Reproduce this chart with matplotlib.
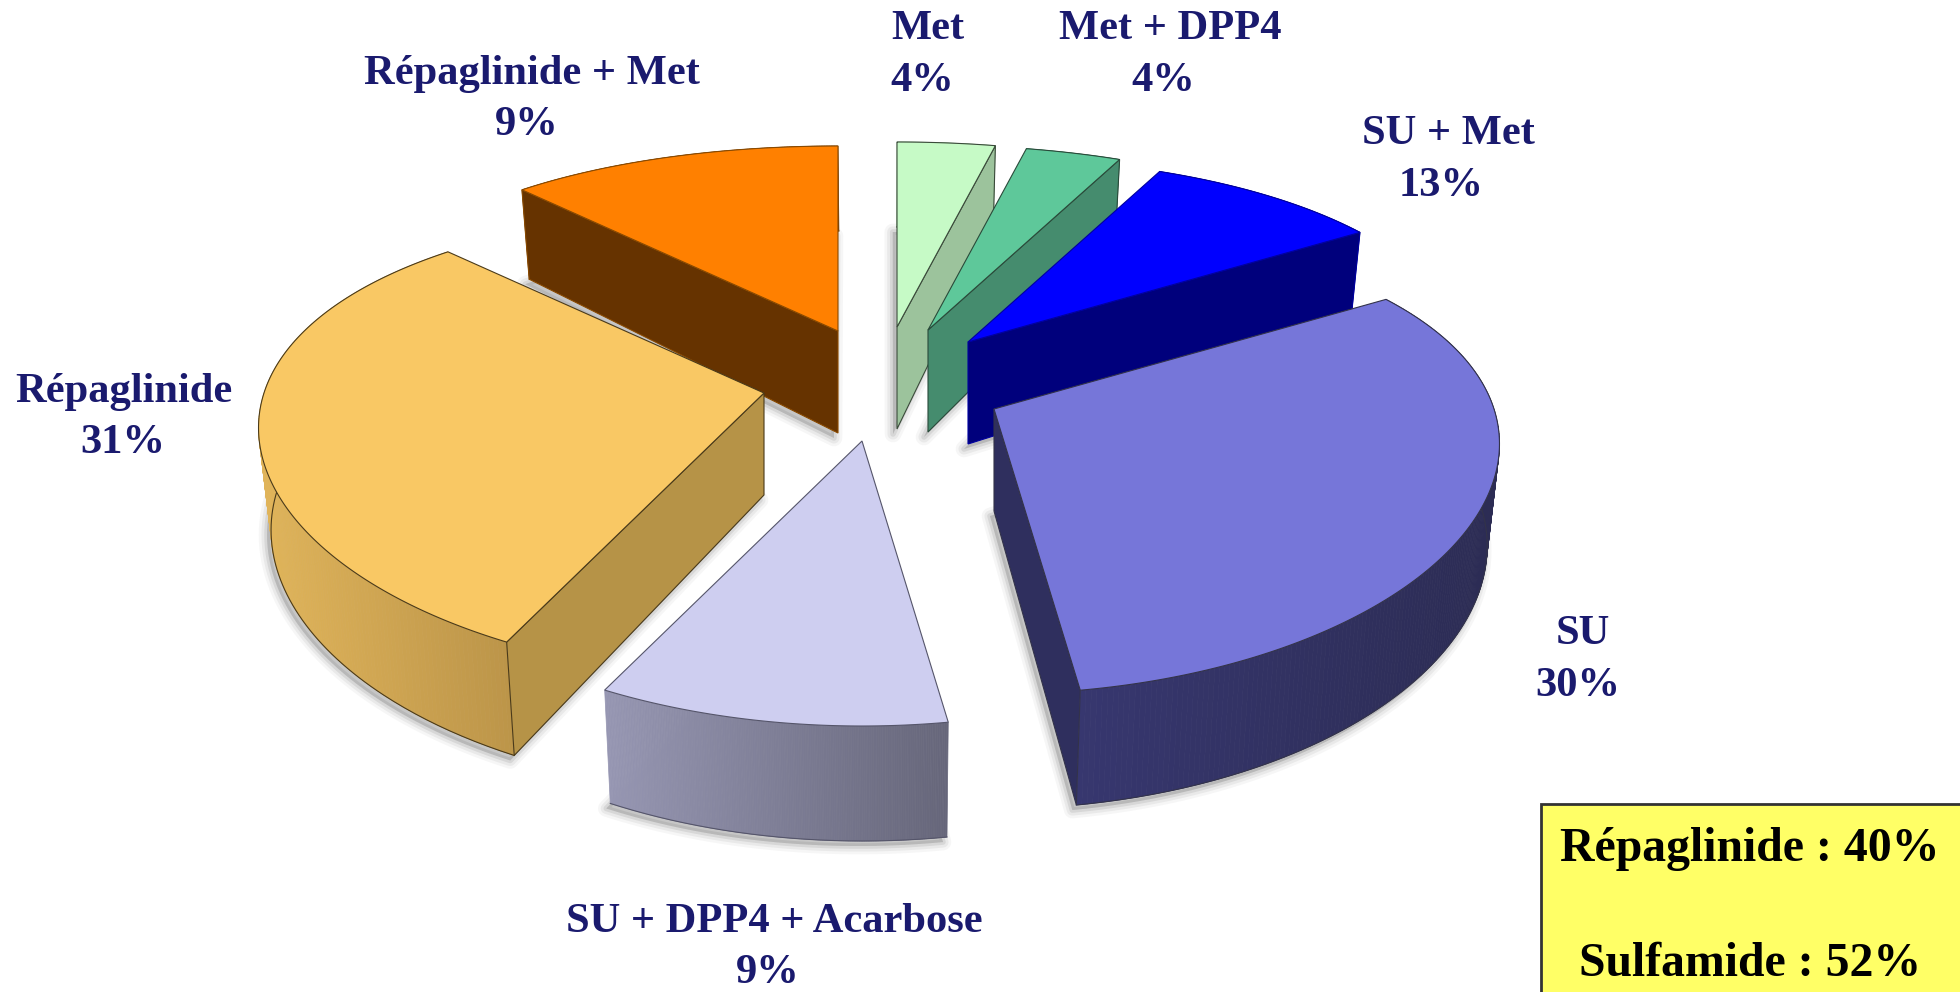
import numpy as np
import matplotlib
matplotlib.use('Agg')
import matplotlib.pyplot as plt

# clockwise from 12 o'clock
slice_names = ['Met', 'Met + DPP4', 'SU + Met', 'SU', 'SU + DPP4 + Acarbose', 'Répaglinide', 'Répaglinide + Met']
slice_labels = ['4%', '4%', '13%', '30%', '9%', '31%', '9%']
# the drawn wedges do not quite follow the printed labels, these are read off the wedges
wedge_share = [3.7, 3.6, 8.9, 31.4, 9.9, 30.0, 12.5]
box_lines = ['Répaglinide : 40%', 'Sulfamide : 52%']

top_colors = ['#C6FAC6', '#5EC89A', '#0000FF', '#7676D9', '#CECEF0', '#F9C864', '#FF8000']
wall_colors = ['#9CC39C', '#458C6E', '#00007C', '#2F2F5E', '#66667A', '#B69347', '#663300']
rim_left = ['#9CC39C', '#458C6E', '#00007C', '#37376F', '#9696B2', '#E0B45A', '#663300']
rim_right = ['#9CC39C', '#458C6E', '#00007C', '#2C2C54', '#66667A', '#BC9549', '#663300']
edge_colors = ['#3A4A3A', '#2A4A3A', '#0000A0', '#33334A', '#55556A', '#4A3A1A', '#8A4A00']

# explode of each slice in pixels, relative to the pie centre
explode_x = [12, 43, 83, 109, -23, -121, -47]
explode_y = [-38, -35, -23, 44, 76, 28, -34]

# layout of the text, in pixels
name_pos = [(928, 29), (1170, 29), (1448, 134), (1583, 634), (774, 922), (124, 392), (532, 74)]
pct_pos = [(922, 81), (1163, 81), (1441, 186), (1578, 686), (768, 973), (123, 443), (527, 125)]
box_text_pos = [(1750, 849), (1750, 964)]

CX, CY = 885, 365
RX = 500
RY_MID, RY_VAR = 235, 50
PERSP = 0.15
BOTTOM_SHRINK = 0.98
APEX_DROP = 102
NAVY = '#1A1A6E'


def rim_point(phi, dx, dy):
    x = RX * np.sin(phi) * (1 - PERSP * np.cos(phi))
    y = -np.cos(phi) * (RY_MID - RY_VAR * np.cos(phi))
    return CX + dx + x, CY + dy + y


def height_at(phi):
    return 100 - 15 * np.cos(phi)


def lower(xs):
    # the base of the pie is a little narrower than its top
    return CX + (xs - CX) * BOTTOM_SHRINK


def blend(c1, c2, f):
    a = np.array(matplotlib.colors.to_rgb(c1))
    b = np.array(matplotlib.colors.to_rgb(c2))
    return tuple(a + (b - a) * f)


fig = plt.figure(figsize=(19.6, 9.92), dpi=100)
ax = fig.add_axes([0, 0, 1, 1])
ax.set_xlim(0, 1960)
ax.set_ylim(992, 0)
ax.axis('off')

bounds = np.radians(np.concatenate([[0], np.cumsum(wedge_share)]) * 3.6)
draw_order = [6, 0, 1, 2, 5, 3, 4]

# soft shadow under everything first
for i in draw_order:
    phi = np.linspace(bounds[i], bounds[i + 1], 80)
    xs, ys = rim_point(phi, explode_x[i], explode_y[i])
    apex_x, apex_y = CX + explode_x[i], CY + explode_y[i]
    sx = np.r_[apex_x, lower(xs), apex_x] - 4
    sy = np.r_[apex_y + APEX_DROP, ys + height_at(phi), apex_y + APEX_DROP] + 5
    for lw, a in [(12, 0.05), (8, 0.08), (4, 0.12)]:
        ax.fill(sx, sy, facecolor='#555555', edgecolor='#555555', lw=lw, alpha=a,
                joinstyle='round', zorder=1)

z = 2
for i in draw_order:
    dx, dy = explode_x[i], explode_y[i]
    a1, a2 = bounds[i], bounds[i + 1]
    phi = np.linspace(a1, a2, 200)
    xs, ys = rim_point(phi, dx, dy)
    hs = height_at(phi)
    xb = lower(xs)
    apex_x, apex_y = CX + dx, CY + dy

    # outer curved face, shaded from left to right
    xmin, xmax = xs.min(), xs.max()
    for k in range(len(phi) - 1):
        f = ((xs[k] + xs[k + 1]) / 2 - xmin) / max(xmax - xmin, 1)
        col = blend(rim_left[i], rim_right[i], f)
        ax.fill([xs[k], xs[k + 1], xb[k + 1], xb[k]],
                [ys[k], ys[k + 1], ys[k + 1] + hs[k + 1], ys[k] + hs[k]],
                facecolor=col, edgecolor=col, lw=0.5, zorder=z)
    ax.plot(xb, ys + hs, color=edge_colors[i], lw=0.8, zorder=z)

    # radial walls, only the ones facing the viewer
    if np.sin(a1) < 0:
        ax.fill([apex_x, xs[0], xb[0], apex_x], [apex_y, ys[0], ys[0] + hs[0], apex_y + APEX_DROP],
                facecolor=wall_colors[i], edgecolor=edge_colors[i], lw=0.8, zorder=z)
    if np.sin(a2) > 0:
        ax.fill([apex_x, xs[-1], xb[-1], apex_x], [apex_y, ys[-1], ys[-1] + hs[-1], apex_y + APEX_DROP],
                facecolor=wall_colors[i], edgecolor=edge_colors[i], lw=0.8, zorder=z)

    ax.fill(np.r_[apex_x, xs], np.r_[apex_y, ys], facecolor=top_colors[i],
            edgecolor=edge_colors[i], lw=0.8, zorder=z)
    z += 1

font = dict(family='Liberation Serif', fontweight='bold', ha='center', va='center')
for i in range(len(slice_names)):
    ax.text(name_pos[i][0], name_pos[i][1], slice_names[i], color=NAVY, fontsize=30.6, zorder=50, **font)
    ax.text(pct_pos[i][0], pct_pos[i][1], slice_labels[i], color=NAVY, fontsize=30.6, zorder=50, **font)

ax.add_patch(plt.Rectangle((1541, 804), 425, 200, facecolor='#FFFF66', edgecolor='#333333', lw=2, zorder=40))
for pos, line in zip(box_text_pos, box_lines):
    ax.text(pos[0], pos[1], line, color='black', fontsize=34.4, zorder=50, **font)

fig.savefig('out.png', dpi=100)
